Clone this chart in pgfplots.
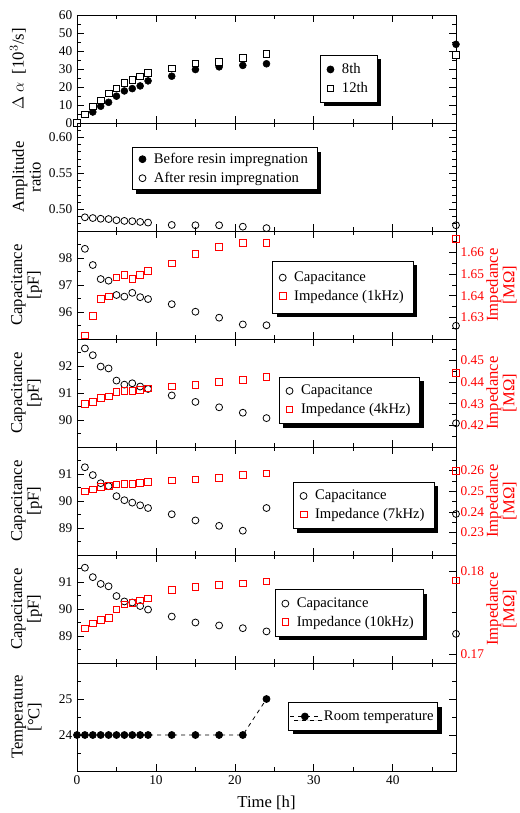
\documentclass[border=0pt]{standalone}
\usepackage{pgfplots}
\pgfplotsset{compat=1.18}
\usepackage{fontspec}
\setmainfont{Liberation Serif}
\usetikzlibrary{shadows}

\pgfplotsset{
  panel/.style={
    scale only axis,
    width=284.25pt, height=81pt,
    xmin=0, xmax=48,
    xtick={0,10,20,30,40},
    minor xtick={5,15,25,35,45},
    xtick pos=both,
    tick align=inside,
    major tick length=5pt,
    minor tick length=3pt,
    every tick/.style={black, line width=0.6pt},
    axis line style={black, line width=0.7pt},
    clip=false,
    tick label style={font=\fontsize{10}{12}\selectfont},
    /pgf/number format/assume math mode=true,
    label style={font=\fontsize{12.5}{12.5}\selectfont, align=center},
    ylabel style={at={(axis description cs:-0.133,0.5)}, anchor=center},
    legend cell align=left,
    legend style={font=\fontsize{11}{11}\selectfont, draw=black, line width=0.6pt, fill=white,
      drop shadow={shadow xshift=3pt, shadow yshift=-3pt, fill=black, opacity=1},
      anchor=north west, inner xsep=5pt, inner ysep=4pt, column sep=4pt, row sep=1pt},
  },
  noxlabels/.style={xticklabels=\empty},
  twin/.style={axis y line*=right, axis x line=none, ytick pos=right,
    yticklabel style={red, /pgf/number format/.cd, fixed, fixed zerofill, precision=2},
    ylabel style={red, at={(axis description cs:1.12,0.5)}, anchor=center}},
  circ/.style={only marks, mark=o, mark size=2.6pt, black, mark options={line width=0.6pt}},
  sq/.style={only marks, mark=square, mark size=2.5pt, red, mark options={line width=0.6pt}},
}

\begin{document}
\begin{tikzpicture}

% panel 1
\begin{axis}[panel, noxlabels, at={(0pt,0pt)}, anchor=north west,
  ymin=0, ymax=60, ytick={0,10,...,60}, minor ytick={5,15,...,55}, ytick pos=both,
  ylabel={$\Delta\ \alpha$\ \ [10$^{3}$/s]},
  ylabel style={at={(axis description cs:-0.156,0.5)}},
  legend style={at={(0.641,0.63)}}]
\addplot[only marks, mark=*, mark size=2.6pt, black] coordinates {
(2,6.1) (3,9.3) (4,11.5) (5,14.9) (6,17.8) (7,19.1) (8,20.6) (9,23.4)
(12,26.0) (15,29.7) (18,31.2) (21,32.0) (24,32.9) (48,43.7)};
\addlegendentry{8th}
\addplot[only marks, mark=square*, mark size=2.5pt, black, mark options={fill=white, line width=0.6pt}] coordinates {
(0,0) (1,4.8) (2,9.3) (3,12.6) (4,16.4) (5,19.3) (6,22.3) (7,23.8) (8,25.8) (9,27.7)
(12,30.3) (15,33.1) (18,34.0) (21,36.2) (24,38.5) (48,37.9)};
\addlegendentry{12th}
\end{axis}

% panel 2
\begin{axis}[panel, noxlabels, at={(0pt,-81pt)}, anchor=north west,
  ymin=0.47, ymax=0.62, ytick={0.50,0.55,0.60},
  minor ytick={0.48,0.49,0.51,0.52,0.53,0.54,0.56,0.57,0.58,0.59,0.61},
  ytick pos=both,
  yticklabel style={/pgf/number format/.cd, fixed, fixed zerofill, precision=2},
  ylabel={Amplitude\\ratio},
  legend style={at={(0.145,0.775)}, inner ysep=2pt}]
\addlegendimage{only marks, mark=*, mark size=2.6pt, black}
\addlegendentry{Before resin impregnation\hspace{12pt}}
\addplot[circ] coordinates {
(1,0.489) (2,0.488) (3,0.487) (4,0.4866) (5,0.485) (6,0.484) (7,0.4836) (8,0.4826) (9,0.4817)
(12,0.4784) (15,0.478) (18,0.478) (21,0.476) (24,0.474) (48,0.478)};
\addlegendentry{After resin impregnation}
\end{axis}

% panel 3 (1kHz)
\begin{axis}[panel, noxlabels, at={(0pt,-162pt)}, anchor=north west,
  ymin=95, ymax=99, ytick={96,97,98}, minor ytick={95.5,96.5,97.5,98.5}, ytick pos=left,
  ylabel={Capacitance\\{}[pF]}]
\addplot[circ] coordinates {
(1,98.34) (2,97.74) (3,97.22) (4,97.16) (5,96.63) (6,96.57) (7,96.71) (8,96.55) (9,96.48)
(12,96.29) (15,96.01) (18,95.79) (21,95.54) (24,95.51) (48,95.49)};
\end{axis}
\begin{axis}[panel, twin, at={(0pt,-162pt)}, anchor=north west,
  ymin=1.62, ymax=1.67, ytick={1.63,1.64,1.65,1.66},
  minor ytick={1.625,1.635,1.645,1.655,1.665},
  ylabel={Impedance\\{}[MΩ]},
  legend style={at={(0.515,0.725)}, inner ysep=6pt}]
\addlegendimage{circ}
\addlegendentry{Capacitance}
\addplot[sq] coordinates {
(1,1.6216) (2,1.6306) (3,1.6387) (4,1.6398) (5,1.6485) (6,1.6498) (7,1.6478) (8,1.6496) (9,1.6516)
(12,1.6550) (15,1.6594) (18,1.6625) (21,1.6644) (24,1.6646) (48,1.6664)};
\addlegendentry{Impedance (1kHz)}
\end{axis}

% panel 4 (4kHz)
\begin{axis}[panel, noxlabels, at={(0pt,-243pt)}, anchor=north west,
  ymin=89, ymax=93, ytick={90,91,92}, minor ytick={89.5,90.5,91.5,92.5}, ytick pos=left,
  ylabel={Capacitance\\{}[pF]}]
\addplot[circ] coordinates {
(1,92.65) (2,92.40) (3,91.98) (4,91.91) (5,91.46) (6,91.31) (7,91.36) (8,91.24) (9,91.15)
(12,90.91) (15,90.67) (18,90.47) (21,90.27) (24,90.07) (48,89.88)};
\end{axis}
\begin{axis}[panel, twin, at={(0pt,-243pt)}, anchor=north west,
  ymin=0.41, ymax=0.46, ytick={0.42,0.43,0.44,0.45},
  minor ytick={0.415,0.425,0.435,0.445,0.455},
  ylabel={Impedance\\{}[MΩ]},
  legend style={at={(0.533,0.651)}}]
\addlegendimage{circ}
\addlegendentry{Capacitance}
\addplot[sq] coordinates {
(1,0.4300) (2,0.4309) (3,0.4327) (4,0.4334) (5,0.4355) (6,0.4361) (7,0.4361) (8,0.4365) (9,0.4371)
(12,0.4380) (15,0.4389) (18,0.4402) (21,0.4411) (24,0.4424) (48,0.4442)};
\addlegendentry{Impedance (4kHz)}
\end{axis}

% panel 5 (7kHz)
\begin{axis}[panel, noxlabels, at={(0pt,-324pt)}, anchor=north west,
  ymin=88, ymax=92, ytick={89,90,91}, minor ytick={88.5,89.5,90.5,91.5}, ytick pos=left,
  ylabel={Capacitance\\{}[pF]}]
\addplot[circ] coordinates {
(1,91.25) (2,90.96) (3,90.66) (4,90.55) (5,90.18) (6,90.03) (7,89.94) (8,89.84) (9,89.74)
(12,89.51) (15,89.28) (18,89.08) (21,88.90) (24,89.74) (48,89.52)};
\end{axis}
\begin{axis}[panel, twin, at={(0pt,-324pt)}, anchor=north west,
  ymin=0.2192, ymax=0.2714, ytick={0.23,0.24,0.25,0.26},
  minor ytick={0.225,0.235,0.245,0.255,0.265},
  ylabel={Impedance\\{}[MΩ]},
  legend style={at={(0.57,0.679)}}]
\addlegendimage{circ}
\addlegendentry{Capacitance}
\addplot[sq] coordinates {
(1,0.2500) (2,0.2509) (3,0.2522) (4,0.2526) (5,0.2533) (6,0.2536) (7,0.2536) (8,0.2541) (9,0.2544)
(12,0.2553) (15,0.2557) (18,0.2565) (21,0.2579) (24,0.2587) (48,0.2600)};
\addlegendentry{Impedance (7kHz)}
\end{axis}

% panel 6 (10kHz)
\begin{axis}[panel, noxlabels, at={(0pt,-405pt)}, anchor=north west,
  ymin=88, ymax=92, ytick={89,90,91}, minor ytick={88.5,89.5,90.5,91.5}, ytick pos=left,
  ylabel={Capacitance\\{}[pF]}]
\addplot[circ] coordinates {
(1,91.53) (2,91.18) (3,90.93) (4,90.84) (5,90.48) (6,90.28) (7,90.24) (8,90.11) (9,89.98)
(12,89.72) (15,89.50) (18,89.39) (21,89.29) (24,89.17) (48,89.08)};
\end{axis}
\begin{axis}[panel, twin, at={(0pt,-405pt)}, anchor=north west,
  ymin=0.16891, ymax=0.18194, ytick={0.17,0.18},
  minor ytick={0.175},
  ylabel={Impedance\\{}[MΩ]},
  legend style={at={(0.522,0.682)}}]
\addlegendimage{circ}
\addlegendentry{Capacitance}
\addplot[sq] coordinates {
(1,0.17310) (2,0.17367) (3,0.17412) (4,0.17436) (5,0.17536) (6,0.17597) (7,0.17617) (8,0.17645) (9,0.17670)
(12,0.17770) (15,0.17811) (18,0.17836) (21,0.17851) (24,0.17875) (48,0.17887)};
\addlegendentry{Impedance (10kHz)}
\end{axis}

% panel 7 (temperature)
\begin{axis}[panel, at={(0pt,-486pt)}, anchor=north west,
  ymin=23, ymax=26, ytick={24,25}, minor ytick={23.5,24.5,25.5}, ytick pos=both,
  ylabel={Temperature\\{}[°C]},
  xlabel={Time [h]},
  xlabel style={at={(axis description cs:0.5,0)}, yshift=-24pt, anchor=center},
  legend style={at={(0.557,0.636)}, inner xsep=1pt, column sep=1pt},
  legend image post style={line width=0.6pt},
  legend image code/.code={%
    \draw[#1, mark repeat=2, mark phase=2] plot coordinates {(0pt,0pt) (11pt,0pt) (22pt,0pt)};}]
\addplot[black, dashed, line width=0.6pt, mark=*, mark size=2.6pt, mark options={solid}] coordinates {
(0,24) (1,24) (2,24) (3,24) (4,24) (5,24) (6,24) (7,24) (8,24) (9,24)
(12,24) (15,24) (18,24) (21,24) (24,25)};
\addlegendentry{Room temperature}
\end{axis}

\pgfresetboundingbox
\path (-57.75pt,11.25pt) rectangle (332.25pt,-598.5pt);
\end{tikzpicture}
\end{document}
